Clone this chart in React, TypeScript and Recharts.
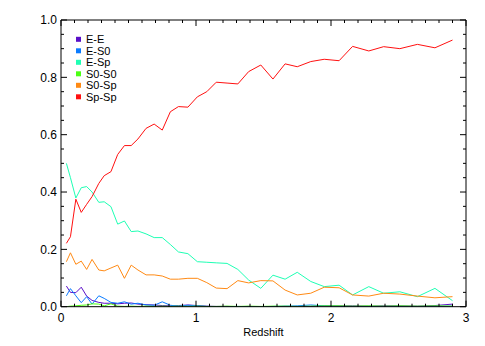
import { LineChart, Line, XAxis, YAxis, Legend } from "recharts";

const redshift = [
  0.04, 0.07, 0.11, 0.15, 0.19, 0.23, 0.28, 0.32, 0.37, 0.42, 0.47, 0.52, 0.57,
  0.63, 0.69, 0.75, 0.81, 0.87, 0.94, 1.01, 1.08, 1.15, 1.23, 1.31, 1.39, 1.48,
  1.57, 1.66, 1.75, 1.85, 1.95, 2.06, 2.16, 2.28, 2.39, 2.51, 2.64, 2.77, 2.9,
];

const eE = [
  0.072, 0.05, 0.049, 0.068, 0.037, 0.022, 0.015, 0.012, 0.012, 0.01, 0.012,
  0.013, 0.009, 0.007, 0.006, 0.004, 0.003, 0.004, 0.006, 0.004, 0.002, 0.001,
  0.001, 0.0, 0.001, 0.0, 0.0, 0.001, 0.0, 0.001, 0.003, 0.003, 0.003, 0.002,
  0.003, 0.003, 0.002, 0.004, 0.009,
];

const eS0 = [
  0.038, 0.063, 0.038, 0.014, 0.035, 0.009, 0.038, 0.029, 0.015, 0.012, 0.017,
  0.009, 0.012, 0.006, 0.005, 0.017, 0.005, 0.002, 0.005, 0.003, 0.001, 0.0,
  0.0, 0.001, 0.0, 0.0, 0.001, 0.002, 0.003, 0.006, 0.003, 0.001, 0.0, 0.001,
  0.0, 0.001, 0.0, 0.001, 0.002,
];

const eSp = [
  0.5, 0.45, 0.379, 0.415, 0.419, 0.4, 0.364, 0.366, 0.349, 0.288, 0.299, 0.262,
  0.264, 0.254, 0.241, 0.241, 0.217, 0.191, 0.185, 0.157, 0.155, 0.153, 0.151,
  0.13, 0.093, 0.064, 0.11, 0.096, 0.12, 0.088, 0.07, 0.075, 0.041, 0.07, 0.047,
  0.052, 0.035, 0.064, 0.021,
];

const s0S0 = [
  0.0, 0.002, 0.003, 0.005, 0.006, 0.01, 0.009, 0.003, 0.01, 0.002, 0.001,
  0.002, 0.001, 0.002, 0.001, 0.002, 0.001, 0.002, 0.001, 0.002, 0.001, 0.001,
  0.002, 0.001, 0.002, 0.001, 0.002, 0.002, 0.001, 0.002, 0.003, 0.003, 0.002,
  0.003, 0.002, 0.003, 0.002, 0.003, 0.002,
];

const s0Sp = [
  0.157, 0.188, 0.148, 0.159, 0.13, 0.165, 0.128, 0.125, 0.135, 0.145, 0.099,
  0.145, 0.128, 0.111, 0.111, 0.107, 0.096, 0.096, 0.099, 0.099, 0.084, 0.065,
  0.063, 0.091, 0.083, 0.091, 0.09, 0.058, 0.041, 0.047, 0.068, 0.066, 0.041,
  0.037, 0.047, 0.044, 0.037, 0.031, 0.035,
];

const spSp = [
  0.221, 0.244, 0.375, 0.329, 0.357, 0.384, 0.43, 0.457, 0.471, 0.531, 0.562,
  0.562, 0.585, 0.622, 0.637, 0.616, 0.68, 0.698, 0.696, 0.732, 0.75, 0.783,
  0.78, 0.777, 0.82, 0.843, 0.794, 0.847, 0.837, 0.855, 0.863, 0.858, 0.908,
  0.892, 0.907, 0.9, 0.915, 0.903, 0.93,
];

const xMajorTicks = [0, 1, 2, 3];
const yMajorTicks = [0, 0.2, 0.4, 0.6, 0.8, 1.0];

const series = [
  { key: "eE", name: "E-E", color: "#5a0fc8" },
  { key: "eS0", name: "E-S0", color: "#0a7bff" },
  { key: "eSp", name: "E-Sp", color: "#1effb4" },
  { key: "s0S0", name: "S0-S0", color: "#4cff14" },
  { key: "s0Sp", name: "S0-Sp", color: "#ff8a14" },
  { key: "spSp", name: "Sp-Sp", color: "#ff1010" },
];

const data = redshift.map((z, i) => ({
  z,
  eE: eE[i],
  eS0: eS0[i],
  eSp: eSp[i],
  s0S0: s0S0[i],
  s0Sp: s0Sp[i],
  spSp: spSp[i],
}));

// minor ticks every 0.1 in x and 0.05 in y, majors get the labels
const xTicks = Array.from({ length: 31 }, (_, i) => i / 10);
const yTicks = Array.from({ length: 21 }, (_, i) => (i * 5) / 100);

const FONT = "Liberation Sans, Arial, sans-serif";
const MAJOR = 6;
const MINOR = 3;

const isXMajor = (v: number) => xMajorTicks.some((t) => Math.abs(t - v) < 1e-6);
const isYMajor = (v: number) => yMajorTicks.some((t) => Math.abs(t - v) < 1e-6);

function BottomTick({ x, y, payload }: any) {
  const major = isXMajor(payload.value);
  return (
    <g>
      <line x1={x} x2={x} y1={y} y2={y - (major ? MAJOR : MINOR)} stroke="#000" />
      {major && (
        <text x={x} y={y + 15} textAnchor="middle" fontSize={12} fontFamily={FONT} fill="#000">
          {String(payload.value)}
        </text>
      )}
    </g>
  );
}

function TopTick({ x, y, payload }: any) {
  const major = isXMajor(payload.value);
  return <line x1={x} x2={x} y1={y} y2={y + (major ? MAJOR : MINOR)} stroke="#000" />;
}

function LeftTick({ x, y, payload }: any) {
  const major = isYMajor(payload.value);
  return (
    <g>
      <line x1={x} x2={x + (major ? MAJOR : MINOR)} y1={y} y2={y} stroke="#000" />
      {major && (
        <text x={x - 4} y={y + 4.3} textAnchor="end" fontSize={12} fontFamily={FONT} fill="#000">
          {payload.value.toFixed(1)}
        </text>
      )}
    </g>
  );
}

function RightTick({ x, y, payload }: any) {
  const major = isYMajor(payload.value);
  return <line x1={x} x2={x - (major ? MAJOR : MINOR)} y1={y} y2={y} stroke="#000" />;
}

function LegendBox() {
  return (
    <svg width={60} height={72} style={{ display: "block" }}>
      {series.map((s, i) => {
        const cy = 6.3 + i * 11.5;
        return (
          <g key={s.key}>
            <rect x={0} y={cy - 2.5} width={5} height={5} fill={s.color} />
            <text x={10} y={cy + 3.8} fontSize={11} fontFamily={FONT} fill="#000">
              {s.name}
            </text>
          </g>
        );
      })}
    </svg>
  );
}

export default function App() {
  return (
    <div style={{ position: "absolute", left: 0, top: 0, background: "#fff" }}>
      <LineChart
        width={485}
        height={346}
        data={data}
        margin={{ top: 19, right: 18, bottom: 0, left: 0 }}
      >
        <XAxis
          dataKey="z"
          type="number"
          domain={[0, 3]}
          ticks={xTicks}
          interval={0}
          height={39.3}
          tickSize={0}
          tickMargin={0}
          tickLine={false}
          tick={<BottomTick />}
          axisLine={{ stroke: "#000" }}
          allowDataOverflow
          label={{
            value: "Redshift",
            position: "insideBottom",
            offset: 10.5,
            fontSize: 11,
            fontFamily: FONT,
            fill: "#000",
          }}
        />
        <XAxis
          xAxisId="top"
          dataKey="z"
          orientation="top"
          type="number"
          domain={[0, 3]}
          ticks={xTicks}
          interval={0}
          height={1}
          tickSize={0}
          tickMargin={0}
          tickLine={false}
          tick={<TopTick />}
          axisLine={{ stroke: "#000" }}
          allowDataOverflow
        />
        <YAxis
          type="number"
          domain={[0, 1]}
          ticks={yTicks}
          interval={0}
          width={61}
          tickSize={0}
          tickMargin={0}
          tickLine={false}
          tick={<LeftTick />}
          axisLine={{ stroke: "#000" }}
          allowDataOverflow
        />
        <YAxis
          yAxisId="right"
          orientation="right"
          type="number"
          domain={[0, 1]}
          ticks={yTicks}
          interval={0}
          width={1}
          tickSize={0}
          tickMargin={0}
          tickLine={false}
          tick={<RightTick />}
          axisLine={{ stroke: "#000" }}
          allowDataOverflow
        />
        <Legend
          layout="vertical"
          align="center"
          verticalAlign="middle"
          wrapperStyle={{ left: 76, top: 33, width: 60 }}
          content={() => <LegendBox />}
        />
        {/* invisible series that keeps the mirrored frame axes in use */}
        <Line
          xAxisId="top"
          yAxisId="right"
          dataKey="spSp"
          stroke="none"
          dot={false}
          activeDot={false}
          legendType="none"
          isAnimationActive={false}
        />
        {series.map((s) => (
          <Line
            key={s.key}
            type="linear"
            dataKey={s.key}
            name={s.name}
            stroke={s.color}
            strokeWidth={1}
            dot={false}
            activeDot={false}
            isAnimationActive={false}
          />
        ))}
      </LineChart>
    </div>
  );
}
